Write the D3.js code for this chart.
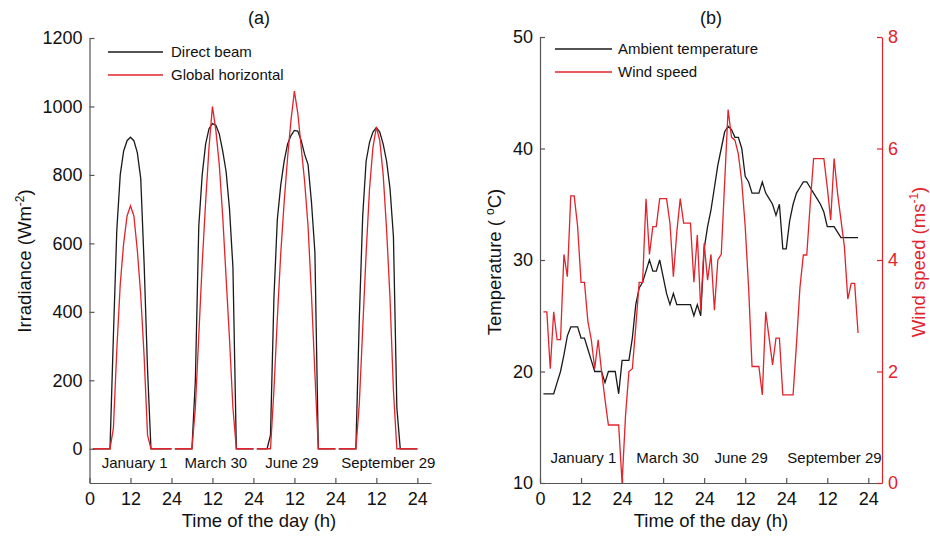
<!DOCTYPE html>
<html>
<head>
<meta charset="utf-8">
<script src="https://cdn.jsdelivr.net/npm/d3@7"></script>
<style>
body{margin:0;background:#fff;}
svg text{font-family:"Liberation Sans",Arial,sans-serif;}
</style>
</head>
<body>
<svg id="chart" width="930" height="536"></svg>
<script>
// x axis ticks (hour of day, repeated for each of the 4 days)
var tickHours = [0, 12, 24, 36, 48, 60, 72, 84, 96];
var tickLabels = ["0", "12", "24", "12", "24", "12", "24", "12", "24"];
var dayNames = ["January 1", "March 30", "June 29", "September 29"];

// (a) hourly irradiance, hours 1..24 of each day (W/m2)
var directBeam = [
    [0,0,0,0,0,0,330,640,800,870,900,910,900,865,790,540,230,0,0,0,0,0,0,0],
    [0,0,0,0,0,0,200,650,800,890,935,950,945,920,870,810,700,530,0,0,0,0,0,0],
    [0,0,0,0,40,440,670,770,840,890,915,930,928,900,860,830,720,575,0,0,0,0,0,0],
    [0,0,0,0,0,0,380,680,840,895,925,938,925,890,840,760,620,120,0,0,0,0,0,0]
];
var globalHorizontal = [
    [0,0,0,0,0,0,60,290,480,600,680,710,680,580,450,270,40,0,0,0,0,0,0,0],
    [0,0,0,0,0,0,120,330,540,720,880,1000,930,830,680,500,320,120,0,0,0,0,0,0],
    [0,0,0,0,0,170,380,570,720,850,960,1045,980,880,780,650,450,220,0,0,0,0,0,0],
    [0,0,0,0,0,0,130,350,570,760,880,940,900,800,640,440,170,0,0,0,0,0,0,0]
];

// (b) hourly ambient temperature (C) and wind speed (m/s), hour 1..93
var temperature = [
    18,18,18,18,19,20,21.5,23.2,24,24,24,23,23,22,21,20,20,20,19,20,20,20,18,21,
    21,21,23,26,27.5,28,29,30,29,29,30,28.5,27,26,27,26,26,26,26,26,25,26,25,31,
    33,34.5,36.5,38.5,40,41.5,42,41.7,41,41,40,37.5,37,36,36,36,37,36,35.5,35,34,35,31,31,
    33.5,35,36,36.5,37,37,36.5,36,35.5,35,34.3,33,33,33,32.5,32,32,32,32,32,32
];
var windSpeed = [
    3.07,3.07,2.05,3.07,2.57,2.57,4.1,3.7,5.15,5.15,4.6,3.6,3.6,2.9,2.57,2.05,2.57,2.0,1.5,1.04,1.04,1.04,1.04,0,
    1.2,2.0,2.05,2.8,3.6,3.6,5.1,4.1,4.6,4.6,5.1,5.1,5.1,4.66,3.7,4.5,5.1,4.66,4.66,4.66,3.6,4.45,3.1,4.3,
    3.64,4.1,3.1,4.0,4.1,5.4,6.7,6.2,6.15,5.9,5.4,4.6,3.5,2.09,2.09,2.09,1.58,3.07,2.6,2.12,2.6,2.6,1.58,1.58,
    1.58,1.58,2.5,3.5,4.09,4.09,5.0,5.82,5.82,5.82,5.82,5.3,4.72,5.82,5.2,4.72,4.24,3.3,3.58,3.58,2.69
];

var RED = "#e2232c", BLACK = "#1a1a1a", AXIS = "#555", TEXT = "#111";

var svg = d3.select("#chart");

function styleAxis(g, color, textColor){
    g.select(".domain").attr("stroke", color).attr("stroke-width", 1.2);
    g.selectAll(".tick line").attr("stroke", color).attr("stroke-width", 1.2);
    g.selectAll(".tick text").attr("fill", textColor).attr("font-size", 18)
        .attr("font-family", '"Liberation Sans",Arial,sans-serif');
}

function xAxisFor(scale){
    return d3.axisBottom(scale).tickValues(tickHours)
        .tickFormat((d, i) => tickLabels[i])
        .tickSizeInner(-5).tickSizeOuter(0).tickPadding(9);
}

// ---------------- panel (a) ----------------
var xA = d3.scaleLinear().domain([0, 100]).range([89.5, 431]);
var yA = d3.scaleLinear().domain([-100, 1200]).range([483, 38]);

var gA = svg.append("g");
gA.append("g").attr("transform", "translate(0,483)").call(xAxisFor(xA)).call(g => styleAxis(g, AXIS, TEXT));
gA.append("g").attr("transform", "translate(89.5,0)")
    .call(d3.axisLeft(yA).tickValues(d3.range(0, 1201, 200)).tickFormat(d3.format("d"))
        .tickSizeInner(-5).tickSizeOuter(0).tickPadding(7))
    .call(g => styleAxis(g, AXIS, TEXT));

var lineA = d3.line().x(d => xA(d.x)).y(d => yA(d.v));
function dayPoints(vals, day){
    return vals.map((v, i) => ({x: day * 24 + i + 1, v: v}));
}
directBeam.forEach((vals, day) => {
    gA.append("path").datum(dayPoints(vals, day)).attr("d", lineA)
        .attr("fill", "none").attr("stroke", BLACK).attr("stroke-width", 1.3);
});
globalHorizontal.forEach((vals, day) => {
    gA.append("path").datum(dayPoints(vals, day)).attr("d", lineA)
        .attr("fill", "none").attr("stroke", RED).attr("stroke-width", 1.3);
});

// day labels
var labelHourA = [13.2, 37, 59.3, 87.5];
dayNames.forEach((n, i) => {
    gA.append("text").attr("x", xA(labelHourA[i])).attr("y", 468)
        .attr("text-anchor", "middle").attr("font-size", 15).attr("fill", TEXT).text(n);
});

// legend
[["Direct beam", BLACK], ["Global horizontal", RED]].forEach((l, i) => {
    gA.append("line").attr("x1", 108).attr("x2", 163).attr("y1", 52 + i * 23).attr("y2", 52 + i * 23)
        .attr("stroke", l[1]).attr("stroke-width", 1.3);
    gA.append("text").attr("x", 171).attr("y", 57 + i * 23).attr("font-size", 15).attr("fill", TEXT).text(l[0]);
});

gA.append("text").attr("x", 259).attr("y", 24).attr("text-anchor", "middle").attr("font-size", 18).attr("fill", TEXT).text("(a)");
gA.append("text").attr("x", 259).attr("y", 527).attr("text-anchor", "middle").attr("font-size", 18.5).attr("fill", TEXT).text("Time of the day (h)");

var tA = gA.append("text").attr("transform", "translate(31,261) rotate(-90)")
    .attr("text-anchor", "middle").attr("font-size", 18.5).attr("fill", TEXT);
tA.append("tspan").text("Irradiance (Wm");
tA.append("tspan").attr("dy", -7).attr("font-size", 12).text("-2");
tA.append("tspan").attr("dy", 7).text(")");

// ---------------- panel (b) ----------------
var xB = d3.scaleLinear().domain([0, 100]).range([540, 882]);
var yT = d3.scaleLinear().domain([10, 50]).range([483, 37]);
var yW = d3.scaleLinear().domain([0, 8]).range([483, 37]);

var gB = svg.append("g");
gB.append("g").attr("transform", "translate(0,483)").call(xAxisFor(xB)).call(g => styleAxis(g, AXIS, TEXT));
gB.append("g").attr("transform", "translate(540,0)")
    .call(d3.axisLeft(yT).tickValues([10, 20, 30, 40, 50]).tickSizeInner(-5).tickSizeOuter(0).tickPadding(7))
    .call(g => styleAxis(g, AXIS, TEXT));
gB.append("g").attr("transform", "translate(882,0)")
    .call(d3.axisRight(yW).tickValues([0, 2, 4, 6, 8]).tickSizeInner(-5).tickSizeOuter(0).tickPadding(6))
    .call(g => styleAxis(g, RED, RED));

gB.append("path").datum(temperature)
    .attr("d", d3.line().x((d, i) => xB(i + 1)).y(d => yT(d)))
    .attr("fill", "none").attr("stroke", BLACK).attr("stroke-width", 1.3);
gB.append("path").datum(windSpeed)
    .attr("d", d3.line().x((d, i) => xB(i + 1)).y(d => yW(d)))
    .attr("fill", "none").attr("stroke", RED).attr("stroke-width", 1.3);

var labelHourB = [12.7, 37.3, 58.8, 86.1];
dayNames.forEach((n, i) => {
    gB.append("text").attr("x", xB(labelHourB[i])).attr("y", 463)
        .attr("text-anchor", "middle").attr("font-size", 15).attr("fill", TEXT).text(n);
});

[["Ambient temperature", BLACK], ["Wind speed", RED]].forEach((l, i) => {
    gB.append("line").attr("x1", 555).attr("x2", 612).attr("y1", 49 + i * 23).attr("y2", 49 + i * 23)
        .attr("stroke", l[1]).attr("stroke-width", 1.3);
    gB.append("text").attr("x", 618).attr("y", 54 + i * 23).attr("font-size", 15).attr("fill", TEXT).text(l[0]);
});

gB.append("text").attr("x", 711).attr("y", 24).attr("text-anchor", "middle").attr("font-size", 18).attr("fill", TEXT).text("(b)");
gB.append("text").attr("x", 711).attr("y", 527).attr("text-anchor", "middle").attr("font-size", 18.5).attr("fill", TEXT).text("Time of the day (h)");

var tT = gB.append("text").attr("transform", "translate(501,262) rotate(-90)")
    .attr("text-anchor", "middle").attr("font-size", 18.5).attr("fill", TEXT);
tT.append("tspan").text("Temperature ( ");
tT.append("tspan").attr("dy", -7).attr("font-size", 12).text("o");
tT.append("tspan").attr("dy", 7).text("C)");

var tW = gB.append("text").attr("transform", "translate(925,262) rotate(-90)")
    .attr("text-anchor", "middle").attr("font-size", 18.5).attr("fill", RED);
tW.append("tspan").text("Wind speed (ms");
tW.append("tspan").attr("dy", -7).attr("font-size", 12).text("-1");
tW.append("tspan").attr("dy", 7).text(")");
</script>
</body>
</html>
